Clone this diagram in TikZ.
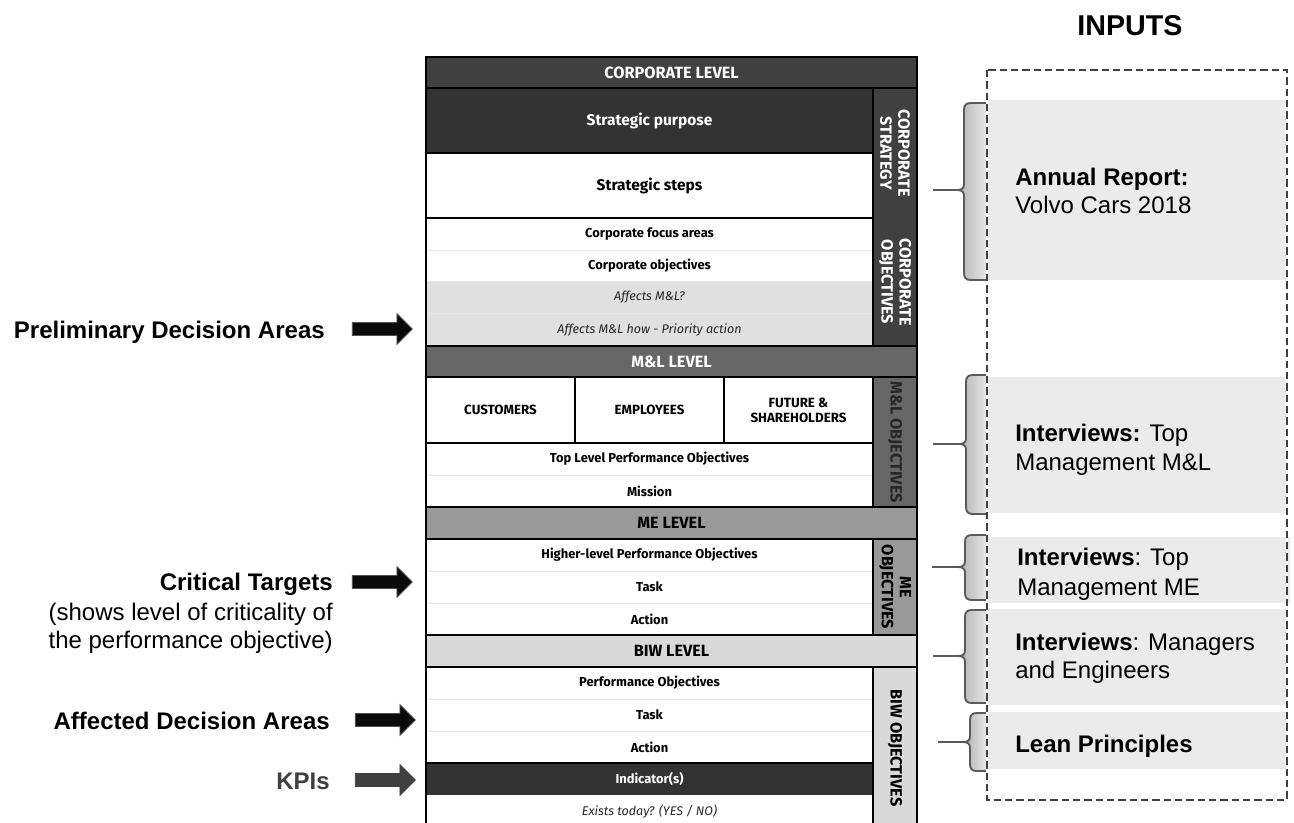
\documentclass[tikz,border=0pt]{standalone}
\usepackage{fontspec}
\setmainfont{Liberation Sans}
\newfontfamily\tabfont{Fira Sans}
\usetikzlibrary{shapes.arrows}

\definecolor{corpdark}{HTML}{404040}
\definecolor{purposecol}{HTML}{333333}
\definecolor{mlgray}{HTML}{666666}
\definecolor{megray}{HTML}{999999}
\definecolor{biwgray}{HTML}{D9D9D9}
\definecolor{rowgray}{HTML}{E0E0E0}
\definecolor{sepgray}{HTML}{E6E6E6}
\definecolor{bandcol}{HTML}{EBEBEB}
\definecolor{dashcol}{HTML}{404040}
\definecolor{bracecol}{HTML}{5A5A5A}
\definecolor{braceL}{HTML}{B0B0B0}
\definecolor{braceR}{HTML}{E8E8E8}
\definecolor{kpicol}{HTML}{404040}
\definecolor{arrowcol}{HTML}{0A0A0A}
\definecolor{arrowedge}{HTML}{505050}

% one table cell: name, x1, y1, x2, y2, fill, text style, text
\newcommand\tcell[8]{%
  \fill[#6] (#2,#3) rectangle (#4,#5);
  \node[#7] (#1) at ({(#2+#4)/2},{(#3+#5)/2}) {#8};}

% curly bracket reaching the dashed input frame: top, tip, bottom, stem start, spine x
\newcommand\inbrace[5]{%
  \fill[left color=braceL, right color=braceR]
    (987,#1) -- ({#5+7},#1) .. controls ({#5+2},#1) and (#5,{#1+2}) .. (#5,{#1+7})
    -- (#5,{#2-6}) .. controls (#5,{#2-2}) and ({#5-2},#2) .. ({#5-7},#2)
    .. controls ({#5-2},#2) and (#5,{#2+2}) .. (#5,{#2+6})
    -- (#5,{#3-7}) .. controls (#5,{#3-2}) and ({#5+2},#3) .. ({#5+7},#3)
    -- (987,#3) -- cycle;
  \draw[bracestyle]
    (987,#1) -- ({#5+7},#1) .. controls ({#5+2},#1) and (#5,{#1+2}) .. (#5,{#1+7})
    -- (#5,{#2-6}) .. controls (#5,{#2-2}) and ({#5-2},#2) .. ({#5-7},#2)
    .. controls ({#5-2},#2) and (#5,{#2+2}) .. (#5,{#2+6})
    -- (#5,{#3-7}) .. controls (#5,{#3-2}) and ({#5+2},#3) .. ({#5+7},#3)
    -- (987,#3);
  \draw[bracestyle] (#4,#2) -- ({#5-7},#2);}

\begin{document}
\begin{tikzpicture}[x=0.75pt,y=-0.75pt,
  tabtxt/.style={font=\tabfont\bfseries\fontsize{9.7}{11}\selectfont, inner sep=0pt, align=center},
  itxt/.style={font=\tabfont\itshape\fontsize{9.4}{11}\selectfont, inner sep=0pt, text=black!85},
  bigtxt/.style={font=\tabfont\bfseries\fontsize{11.6}{13}\selectfont, inner sep=0pt},
  headtxt/.style={font=\tabfont\bfseries\fontsize{12.2}{14}\selectfont, inner sep=0pt},
  captxt/.style={font=\tabfont\bfseries\fontsize{10}{11.3}\selectfont, inner sep=0pt, align=center},
  sidetxt/.style={font=\tabfont\bfseries\fontsize{12.2}{13.5}\selectfont, inner sep=0pt, align=center, rotate=-90},
  thickline/.style={line width=1.5pt, black},
  thinline/.style={line width=0.75pt, sepgray},
  bracestyle/.style={line width=1.4pt, bracecol},
  rtxt/.style={font=\fontsize{18}{22}\selectfont, anchor=base west, inner sep=0pt},
  ltxt/.style={font=\fontsize{18}{22}\selectfont, anchor=base east, inner sep=0pt},
  blockarrow/.style={single arrow, fill=arrowcol, draw=arrowedge, line width=0.6pt,
    inner xsep=0pt, inner ysep=4.6pt,
    single arrow head extend=6.6pt, minimum height=45pt, anchor=center}
]
\useasboundingbox (0,0) rectangle (1294,822);
\clip (0,0) rectangle (1294,822);

% ---------- corporate level ----------
\tcell{corplevel}{426}{57}{917}{88}{corpdark}{headtxt,text=white}{CORPORATE LEVEL}
\tcell{purpose}{426}{88}{873}{153}{purposecol}{bigtxt,text=white}{Strategic purpose}
\tcell{steps}{426}{153}{873}{218}{white}{bigtxt}{Strategic steps}
\tcell{focus}{426}{218}{873}{250}{white}{tabtxt}{Corporate focus areas}
\tcell{corpobj}{426}{250}{873}{281}{white}{tabtxt}{Corporate objectives}
\tcell{affects}{426}{281}{873}{313}{rowgray}{itxt}{Affects M\&L?}
\tcell{affhow}{426}{313}{873}{346}{rowgray}{itxt}{Affects M\&L how - Priority action}
\tcell{corpstrat}{873}{88}{917}{218}{corpdark}{sidetxt,text=white}{CORPORATE\\STRATEGY}
\tcell{corpobjside}{873}{218}{917}{346}{corpdark}{sidetxt,text=white}{CORPORATE\\OBJECTIVES}

% ---------- M&L level ----------
\tcell{mllevel}{426}{346}{917}{377}{mlgray}{headtxt,text=white}{M\&L LEVEL}
\tcell{cust}{426}{377}{575}{443}{white}{captxt}{CUSTOMERS}
\tcell{empl}{575}{377}{724}{443}{white}{captxt}{EMPLOYEES}
\tcell{future}{724}{377}{873}{443}{white}{captxt}{FUTURE \&\\SHAREHOLDERS}
\tcell{toplevel}{426}{443}{873}{475}{white}{tabtxt}{Top Level Performance Objectives}
\tcell{mission}{426}{475}{873}{507}{white}{tabtxt}{Mission}
\tcell{mlobj}{873}{377}{917}{507}{mlgray}{sidetxt,text=black!85}{M\&L OBJECTIVES}

% ---------- ME level ----------
\tcell{melevel}{426}{507}{917}{539}{megray}{headtxt}{ME LEVEL}
\tcell{higher}{426}{539}{873}{571}{white}{tabtxt}{Higher-level Performance Objectives}
\tcell{metask}{426}{571}{873}{603}{white}{tabtxt}{Task}
\tcell{meaction}{426}{603}{873}{635}{white}{tabtxt}{Action}
\tcell{meobj}{873}{539}{917}{635}{megray}{sidetxt}{ME\\OBJECTIVES}

% ---------- BIW level ----------
\tcell{biwlevel}{426}{635}{917}{667}{biwgray}{headtxt}{BIW LEVEL}
\tcell{perf}{426}{667}{873}{699}{white}{tabtxt}{Performance Objectives}
\tcell{biwtask}{426}{699}{873}{731}{white}{tabtxt}{Task}
\tcell{biwaction}{426}{731}{873}{763}{white}{tabtxt}{Action}
\tcell{indic}{426}{763}{873}{795}{purposecol}{tabtxt,text=white}{Indicator(s)}
\tcell{exists}{426}{795}{873}{829}{white}{itxt}{Exists today? (YES / NO)}
\tcell{biwobj}{873}{667}{917}{829}{biwgray}{sidetxt}{BIW OBJECTIVES}

% ---------- grid lines ----------
\foreach \y in {250,281,313,475,571,603,699,731}
  \draw[thinline] (427,\y) -- (872,\y);
\foreach \y in {88,346,377,507,539,635,667}
  \draw[thickline] (426,\y) -- (917,\y);
\foreach \y in {153,218,443,763}
  \draw[thickline] (426,\y) -- (873,\y);
\draw[thickline] (873,88) -- (873,346);
\draw[thickline] (873,377) -- (873,507);
\draw[thickline] (873,539) -- (873,635);
\draw[thickline] (873,667) -- (873,829);
\draw[thickline] (575,377) -- (575,443);
\draw[thickline] (724,377) -- (724,443);
\draw[thickline] (426,57) rectangle (917,829);

% ---------- inputs ----------
\node[font=\bfseries\fontsize{21.5}{24}\selectfont, anchor=base, inner sep=0pt] (inputs) at (1130,35) {INPUTS};

\fill[bandcol] (987,100) rectangle (1287,280);
\fill[bandcol] (987,377) rectangle (1287,513);
\fill[bandcol] (987,537) rectangle (1290,603);
\fill[bandcol] (987,609) rectangle (1287,705);
\fill[bandcol] (987,712) rectangle (1287,769);

\inbrace{103}{190}{280}{933}{964}
\inbrace{375}{444}{514}{933}{966}
\inbrace{535}{567}{600}{932}{965}
\inbrace{610}{656}{703}{933}{965}
\inbrace{713}{742}{771}{938}{970}

\draw[white, line width=1.5pt] (987,70) rectangle (1287,800);
\draw[dashcol, line width=1.5pt, dash pattern=on 5.5pt off 3pt] (987,70) rectangle (1287,800);

\node[rtxt] (annual1) at (1015,185) {\textbf{Annual Report:}};
\node[rtxt] (annual2) at (1015,213) {Volvo Cars 2018};
\node[rtxt] (ivml1) at (1015,441) {\textbf{Interviews:} Top};
\node[rtxt] (ivml2) at (1015,470) {Management M\&L};
\node[rtxt] (ivme1) at (1017,565) {\textbf{Interviews}: Top};
\node[rtxt] (ivme2) at (1017,595) {Management ME};
\node[rtxt] (ivmn1) at (1015,650) {\textbf{Interviews}: Managers};
\node[rtxt] (ivmn2) at (1015,678) {and Engineers};
\node[rtxt] (lean) at (1015,752) {\textbf{Lean Principles}};

% ---------- left labels ----------
\node[ltxt] (prelim) at (325,338) {\textbf{Preliminary Decision Areas}};
\node[ltxt] (crit) at (333,590) {\textbf{Critical Targets}};
\node[ltxt] (critA) at (333,620) {(shows level of criticality of};
\node[ltxt] (critB) at (333,648) {the performance objective)};
\node[ltxt] (affected) at (330,729) {\textbf{Affected Decision Areas}};
\node[ltxt, text=kpicol] (kpis) at (330,789) {\textbf{KPIs}};

\node[blockarrow] (prelimarrow) at (379,329) {};
\node[blockarrow] (critarrow) at (379,582) {};
\node[blockarrow] (affarrow) at (382,720) {};
\node[blockarrow, fill=kpicol, draw=kpicol] (kpiarrow) at (382,780) {};
\end{tikzpicture}
\end{document}
